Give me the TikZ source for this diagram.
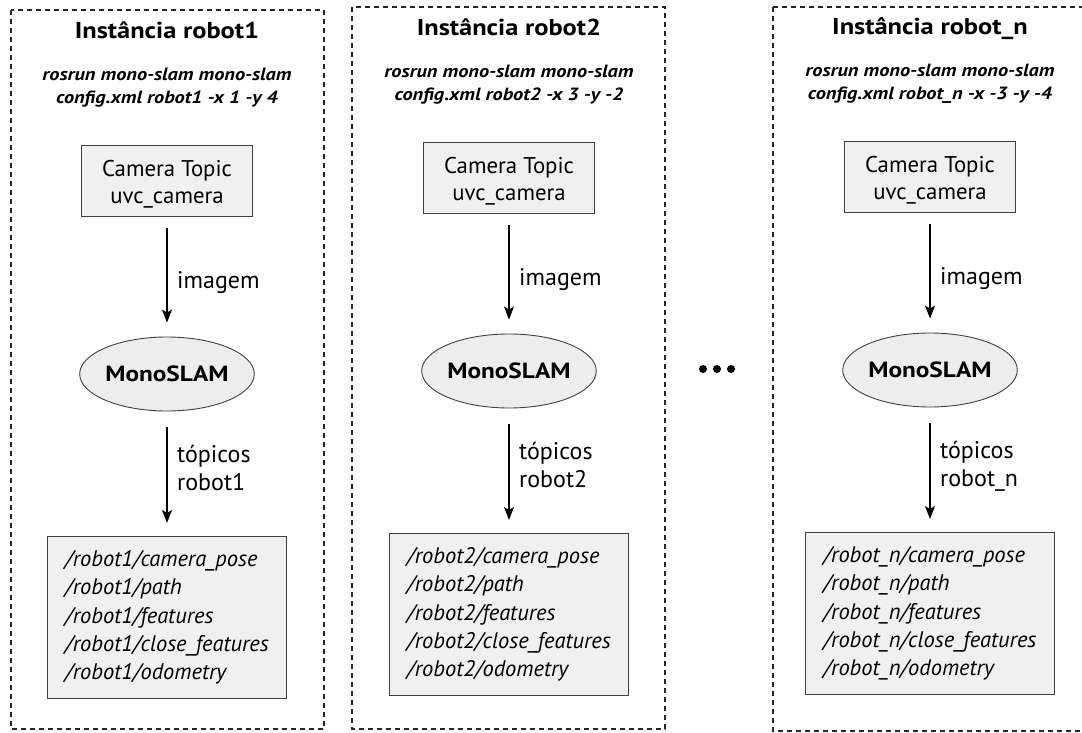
\documentclass[tikz,border=0pt]{standalone}
\usepackage{fontspec}
\setmainfont{PT Sans}
% slightly widened cut of the same family for the bold texts
\newfontfamily\widesans[FakeStretch=1.15]{PT Sans}
\usetikzlibrary{arrows.meta,shapes.geometric}

% One launched instance: title, launch command, camera topic, MonoSLAM node, published topics
% #1 id, #2 centre x, #3 vertical offset, #4 robot name, #5 launch arguments
\newcommand{\RobotPanel}[5]{%
  \begin{scope}[shift={(#2,#3)}]
    \node[paneltitle] (title#1) at (0,39) {Instância #4};
    \node[launchcmd] (cmd#1) at (0,88) {rosrun mono-slam mono-slam\\config.xml #4 #5};
    \node[cambox] (cam#1) at (0,181) {\rule{0pt}{23pt}Camera Topic\\uvc\_camera};
    \node[slam] (slam#1) at (0,374) {MonoSLAM};
    \node[topics] (top#1) at (0,536) {/#4/camera\_pose\\/#4/path\\/#4/features\\/#4/close\_features\\/#4/odometry};
    \node[edgelbl] (img#1) at (10,288) {imagem};
    \node[edgelbl] (tpa#1) at (10,462) {tópicos};
    \node[edgelbl] (tpb#1) at (10,490) {#4};
  \end{scope}
  \draw[flow,shorten <=11pt,shorten >=14pt] (cam#1) -- (slam#1);
  \draw[flow,shorten <=16pt,shorten >=13pt] (slam#1) -- (top#1);
}

\begin{document}
\begin{tikzpicture}[x=1pt,y=-1pt,
  panel/.style={draw=black!85,dash pattern=on 5pt off 4pt,line width=1.1pt},
  paneltitle/.style={anchor=base,inner sep=0pt,font=\widesans\bfseries\fontsize{23}{26}\selectfont},
  launchcmd/.style={inner sep=0pt,align=center,font=\widesans\bfseries\itshape\fontsize{17.7}{23}\selectfont},
  cambox/.style={draw=black!75,fill=black!6,line width=1.2pt,minimum width=171pt,minimum height=71pt,
    inner sep=0pt,align=center,font=\fontsize{22.8}{27}\selectfont},
  slam/.style={ellipse,draw=black!75,fill=black!7,line width=0.9pt,minimum width=167pt,minimum height=74pt,
    inner sep=0pt,font=\widesans\bfseries\fontsize{22}{24}\selectfont},
  topics/.style={anchor=north,draw=black!75,fill=black!6,line width=1.2pt,align=left,
    inner xsep=18pt,inner ysep=14pt,font=\itshape\fontsize{22.5}{28.3}\selectfont},
  edgelbl/.style={anchor=base west,inner sep=0pt,font=\fontsize{24}{28}\selectfont},
  flow/.style={-{Stealth[length=13pt,width=10pt,inset=3pt]},line width=1.1pt},
  dot/.style={circle,fill=black,inner sep=0pt,minimum size=8pt}]

  \useasboundingbox (0,0) rectangle (1082,733);

  % dashed instance frames
  \draw[panel] (11,10) rectangle (324,729);
  \draw[panel] (352,7) rectangle (665,729);
  \draw[panel] (773,7) -- (1090,7) (773,7) -- (773,731) -- (1090,731);

  \RobotPanel{1}{167}{0}{robot1}{-x 1 -y 4}
  \RobotPanel{2}{509}{-3}{robot2}{-x 3 -y -2}
  \RobotPanel{3}{930}{-4}{robot\_n}{-x -3 -y -4}

  % further instances
  \node[dot] (dotA) at (703,369) {};
  \node[dot] (dotB) at (717,369) {};
  \node[dot] (dotC) at (731,369) {};
\end{tikzpicture}
\end{document}
